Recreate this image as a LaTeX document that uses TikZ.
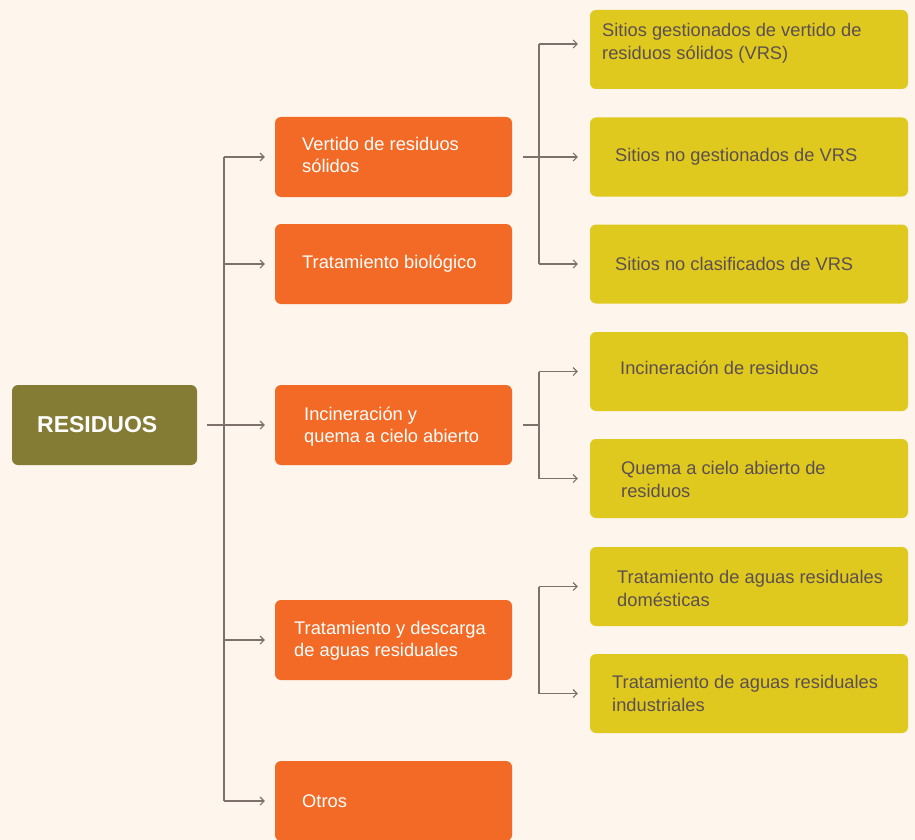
\documentclass[tikz,border=0pt]{standalone}
\usepackage{fontspec}
\setmainfont{Liberation Sans}
\usepackage{tikz}
\usetikzlibrary{arrows.meta}

\definecolor{bgcream}{HTML}{FEF5EC}
\definecolor{olivebox}{HTML}{847C34}
\definecolor{orangebox}{HTML}{F26A25}
\definecolor{yellowbox}{HTML}{E0C91F}
\definecolor{linegrey}{HTML}{7E706B}
\definecolor{textgrey}{HTML}{5B4F50}

\tikzset{
    rootbox/.style={fill=olivebox, rounded corners=6pt, minimum width=185pt, minimum height=80pt, inner sep=0pt},
    obox/.style={fill=orangebox, rounded corners=6pt, minimum width=237pt, minimum height=80pt, inner sep=0pt},
    ybox/.style={fill=yellowbox, rounded corners=6pt, minimum width=318pt, minimum height=79pt, inner sep=0pt},
    otext/.style={anchor=west, inner sep=0pt, align=left, text=white, font=\fontsize{18.3}{22.5}\selectfont},
    ytext/.style={anchor=west, inner sep=0pt, align=left, text=textgrey, font=\fontsize{18.3}{23}\selectfont},
    wire/.style={draw=linegrey, line width=1.2pt},
    arr/.style={wire, -{Straight Barb[length=4pt, width=8pt, line width=1.1pt]}}
}

\begin{document}
\begin{tikzpicture}[x=1pt, y=1pt]
    \useasboundingbox (0,0) rectangle (915,-840);
    \fill[bgcream] (0,0) rectangle (915,-840);

    \node[rootbox] (res) at (104.5,-425) {};
    \node[anchor=west, inner sep=0pt, text=white, font=\bfseries\fontsize{23}{26}\selectfont] (rest) at (37,-425) {RESIDUOS};

    \node[obox] (o1) at (393.5,-157) {};
    \node[obox] (o2) at (393.5,-264) {};
    \node[obox] (o3) at (393.5,-425) {};
    \node[obox] (o4) at (393.5,-640) {};
    \node[obox] (o5) at (393.5,-801) {};

    \node[otext] (o1t) at (302,-155) {Vertido de residuos\\s\'olidos};
    \node[otext] (o2t) at (302,-264) {Tratamiento biol\'ogico};
    \node[otext] (o3t) at (304,-426.5) {Incineraci\'on y\\quema a cielo abierto};
    \node[otext] (o4t) at (294,-641) {Tratamiento y descarga\\de aguas residuales};
    \node[otext] (o5t) at (302,-801) {Otros};

    \node[ybox] (y1) at (749,-49.5) {};
    \node[ybox] (y2) at (749,-157) {};
    \node[ybox] (y3) at (749,-264) {};
    \node[ybox] (y4) at (749,-371.5) {};
    \node[ybox] (y5) at (749,-478.5) {};
    \node[ybox] (y6) at (749,-586.5) {};
    \node[ybox] (y7) at (749,-693.5) {};

    \node[ytext] (y1t) at (602,-43.5) {Sitios gestionados de vertido de\\residuos s\'olidos (VRS)};
    \node[ytext] (y2t) at (615,-157) {Sitios no gestionados de VRS};
    \node[ytext] (y3t) at (615,-264) {Sitios no clasificados de VRS};
    \node[ytext] (y4t) at (620,-368) {Incineraci\'on de residuos};
    \node[ytext] (y5t) at (621,-479.5) {Quema a cielo abierto de\\residuos};
    \node[ytext] (y6t) at (617,-588.5) {Tratamiento de aguas residuales\\dom\'esticas};
    \node[ytext] (y7t) at (612,-693.5) {Tratamiento de aguas residuales\\industriales};

    \coordinate (trunk) at (224,0);
    \coordinate (fork) at (539,0);
    \coordinate (y1in) at ([yshift=5.5pt]y1.west);

    % main trunk
    \draw[wire] ([xshift=10pt]res.east) -- (trunk |- res.east);
    \draw[wire] (trunk |- o1.west) -- (trunk |- o5.west);
    \foreach \o in {o1,o2,o3,o4,o5}
        \draw[arr] (trunk |- \o.west) -- ([xshift=-10pt]\o.west);

    % branches to the right
    \draw[wire] ([xshift=11pt]o1.east) -- (fork |- o1.east);
    \draw[wire] (fork |- y1in) -- (fork |- y3.west);
    \draw[arr] (fork |- y1in) -- ([xshift=-12pt]y1in);
    \draw[arr] ([xshift=11pt]o1.east) -- ([xshift=-12pt]y2.west);
    \draw[arr] (fork |- y3.west) -- ([xshift=-12pt]y3.west);

    \draw[wire] ([xshift=11pt]o3.east) -- (fork |- o3.east);
    \draw[wire] (fork |- y4.west) -- (fork |- y5.west);
    \foreach \y in {y4,y5}
        \draw[arr] (fork |- \y.west) -- ([xshift=-12pt]\y.west);

    \draw[wire] (fork |- y6.west) -- (fork |- y7.west);
    \foreach \y in {y6,y7}
        \draw[arr] (fork |- \y.west) -- ([xshift=-12pt]\y.west);
\end{tikzpicture}
\end{document}
